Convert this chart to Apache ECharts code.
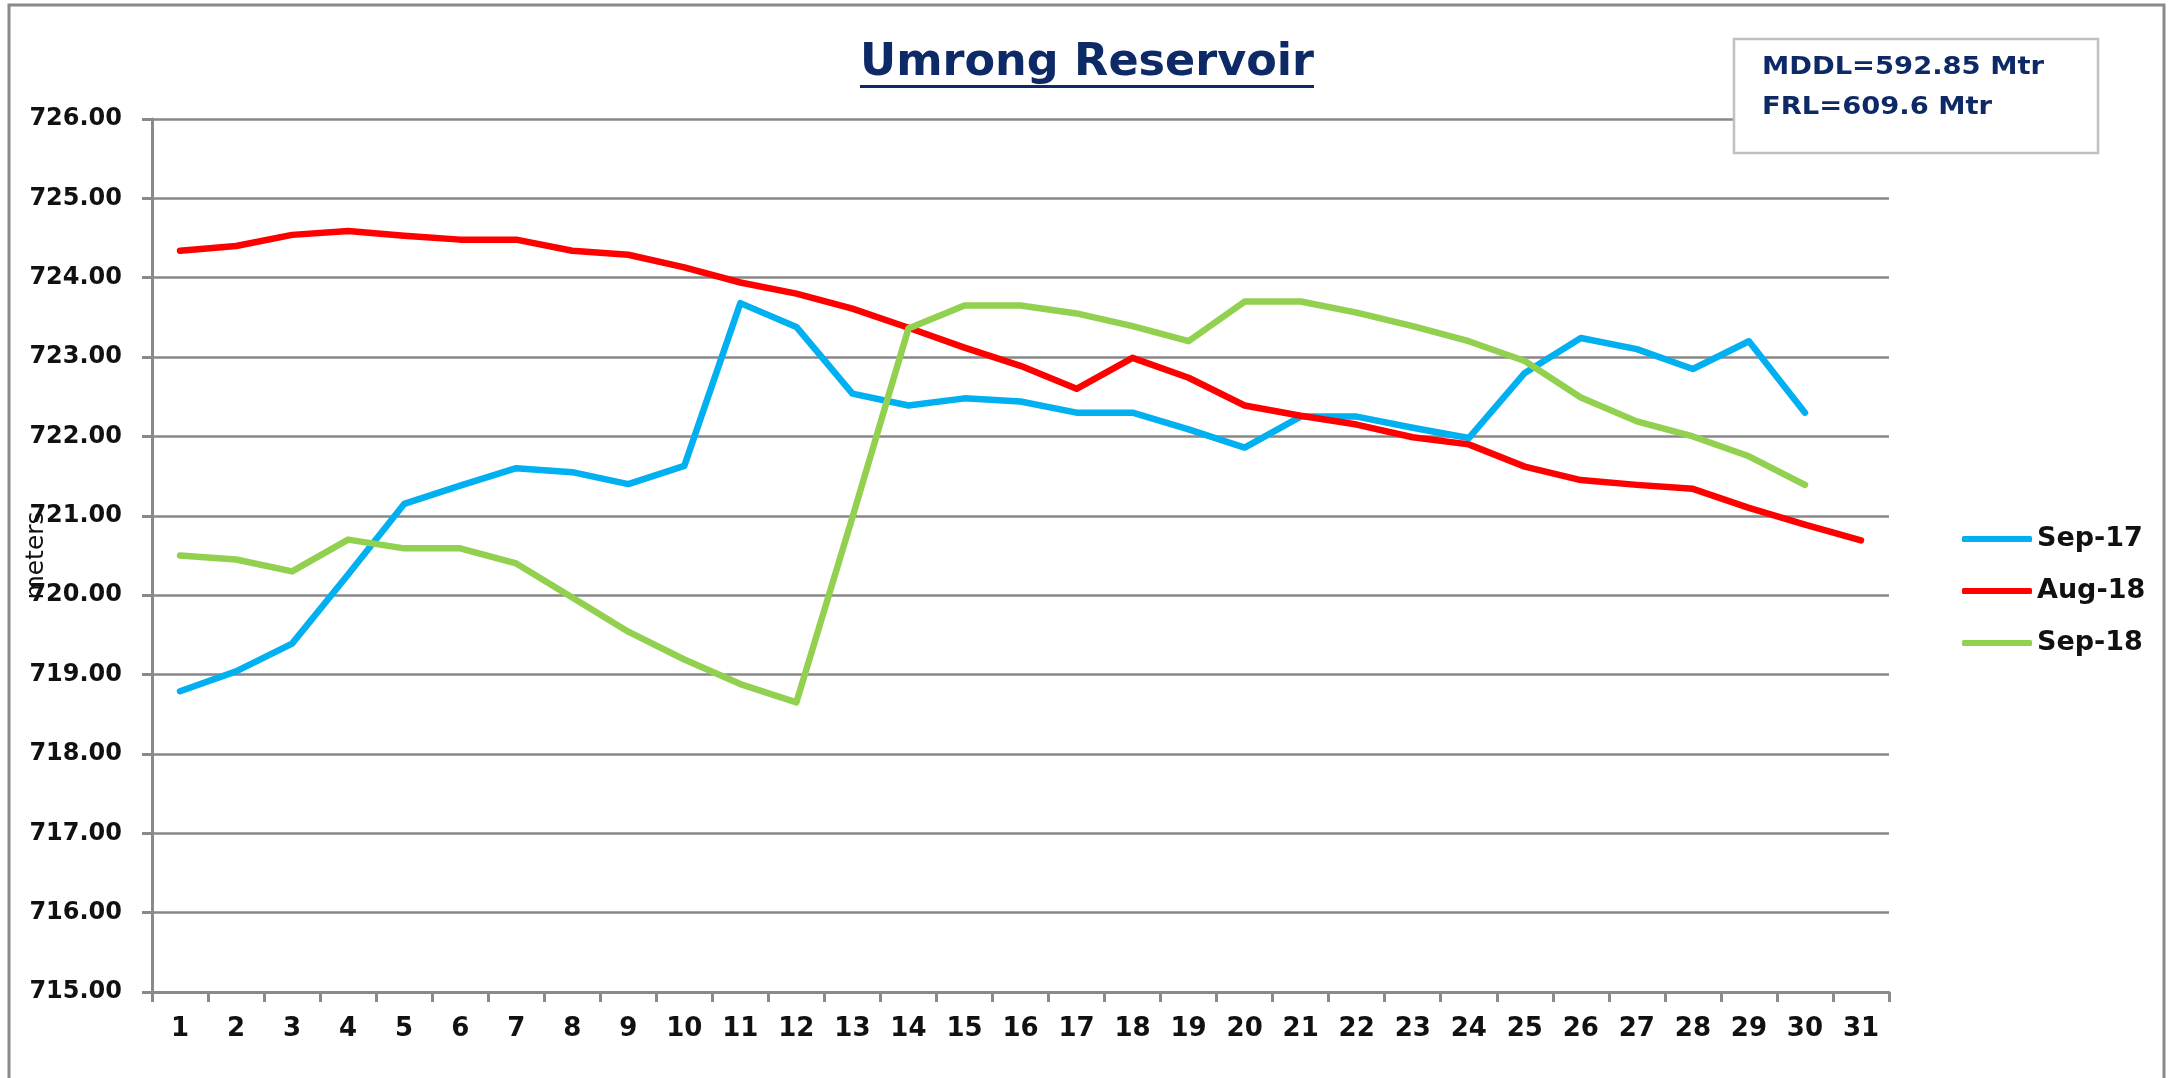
<!DOCTYPE html>
<html>
<head>
<meta charset="utf-8">
<script src="https://cdn.jsdelivr.net/npm/echarts@6/dist/echarts.min.js"></script>
<style>
html,body{margin:0;padding:0;background:#fff;}
#chart{width:2169px;height:1078px;}
</style>
</head>
<body>
<div id="chart"></div>
<script>
// ---- data ----
var days = ['1','2','3','4','5','6','7','8','9','10','11','12','13','14','15','16','17','18','19','20','21','22','23','24','25','26','27','28','29','30','31'];
var seriesNames = ['Sep-17', 'Aug-18', 'Sep-18'];
var sep17 = [718.79, 719.04, 719.39, 720.26, 721.15, 721.38, 721.60, 721.55, 721.40, 721.63, 723.68, 723.38, 722.54, 722.39, 722.48, 722.44, 722.30, 722.30, 722.09, 721.86, 722.25, 722.25, 722.11, 721.98, 722.80, 723.24, 723.10, 722.85, 723.20, 722.30, null];
var aug18 = [724.34, 724.40, 724.54, 724.59, 724.53, 724.48, 724.48, 724.34, 724.29, 724.13, 723.94, 723.80, 723.61, 723.37, 723.12, 722.89, 722.60, 722.99, 722.74, 722.39, 722.26, 722.15, 721.99, 721.90, 721.62, 721.45, 721.39, 721.34, 721.10, 720.89, 720.69];
var sep18 = [720.50, 720.45, 720.30, 720.70, 720.59, 720.59, 720.40, 719.97, 719.54, 719.19, 718.88, 718.65, 720.98, 723.36, 723.65, 723.65, 723.55, 723.39, 723.20, 723.70, 723.70, 723.56, 723.39, 723.20, 722.95, 722.49, 722.19, 722.00, 721.75, 721.39, null];
var titleText = 'Umrong Reservoir';
var infoLines = ['MDDL=592.85 Mtr', 'FRL=609.6 Mtr'];
var yAxisName = 'meters';

// ---- chart ----
var FONT = 'DejaVu Sans';
var NAVY = '#0e2a66';
var mc = document.createElement('canvas').getContext('2d');
function textW(font, s) { mc.font = font; return mc.measureText(s).width; }

var titleFont = 'bold 44px "' + FONT + '"';
var titleW = textW(titleFont, titleText);
var titleScale = 454 / titleW;
var titleCx = 1087;

var infoFont = 'bold 24px "' + FONT + '"';
var infoScale = 282 / textW(infoFont, infoLines[0]);

var chart = echarts.init(document.getElementById('chart'), null, {renderer: 'canvas'});
var lineStyleBase = {width: 6.5, cap: 'round', join: 'round'};
function mk(name, data, color) {
  return {
    name: name, type: 'line', data: data, symbol: 'none', smooth: false,
    connectNulls: false,
    lineStyle: Object.assign({color: color}, lineStyleBase),
    itemStyle: {color: color}
  };
}
chart.setOption({
  animation: false,
  backgroundColor: '#ffffff',
  grid: {left: 152, right: 280, top: 119, bottom: 86, containLabel: false, outerBoundsMode: 'none'},
  legend: {
    orient: 'vertical', left: 1957, top: 518,
    itemWidth: 70, itemHeight: 6, itemGap: 20, icon: 'roundRect',
    textStyle: {fontFamily: FONT, fontWeight: 'bold', fontSize: 27, color: '#111', lineHeight: 32, padding: [0,0,0,0]},
    data: seriesNames
  },
  xAxis: {
    type: 'category', data: days, boundaryGap: true,
    axisLine: {lineStyle: {color: '#8a8a8a', width: 3}},
    axisTick: {show: true, length: 10, alignWithLabel: false, lineStyle: {color: '#8a8a8a', width: 3}},
    axisLabel: {interval: 0, margin: 24, fontFamily: FONT, fontWeight: 'bold', fontSize: 26, color: '#111'},
    splitLine: {show: false}
  },
  yAxis: {
    type: 'value', min: 715, max: 726, interval: 1,
    name: yAxisName, nameLocation: 'middle', nameRotate: 90, nameGap: 103, nameMoveOverlap: false,
    nameTextStyle: {fontFamily: FONT, fontSize: 25, color: '#111'},
    axisLine: {show: true, lineStyle: {color: '#8a8a8a', width: 3}},
    axisTick: {show: true, length: 10, lineStyle: {color: '#8a8a8a', width: 3}},
    axisLabel: {margin: 30, fontFamily: FONT, fontWeight: 'bold', fontSize: 24, color: '#111',
      formatter: function (v) { return v.toFixed(2); }},
    splitLine: {show: true, lineStyle: {color: '#888888', width: 2.5}}
  },
  series: [
    mk(seriesNames[0], sep17, '#00b0f0'),
    mk(seriesNames[1], aug18, '#ff0000'),
    mk(seriesNames[2], sep18, '#92d050')
  ],
  graphic: [
    {type: 'rect', shape: {x: 9, y: 5, width: 2155, height: 1100}, silent: true, z: -1,
     style: {fill: 'none', stroke: '#8a8a8a', lineWidth: 3}},
    {type: 'text', x: titleCx, y: 64, z: 10, scaleX: titleScale,
     style: {text: titleText, font: titleFont, fill: NAVY, textAlign: 'center', textVerticalAlign: 'middle'}},
    {type: 'rect', shape: {x: titleCx - 227, y: 85, width: 454, height: 3}, z: 10,
     style: {fill: NAVY}},
    {type: 'rect', shape: {x: 1734, y: 39, width: 364, height: 114}, z: 10,
     style: {fill: '#ffffff', stroke: '#c0c0c0', lineWidth: 2.5}},
    {type: 'text', x: 1762, y: 68, z: 11, scaleX: infoScale,
     style: {text: infoLines[0], font: infoFont, fill: NAVY, textAlign: 'left', textVerticalAlign: 'middle'}},
    {type: 'text', x: 1762, y: 108, z: 11, scaleX: infoScale,
     style: {text: infoLines[1], font: infoFont, fill: NAVY, textAlign: 'left', textVerticalAlign: 'middle'}}
  ]
});
</script>
</body>
</html>
